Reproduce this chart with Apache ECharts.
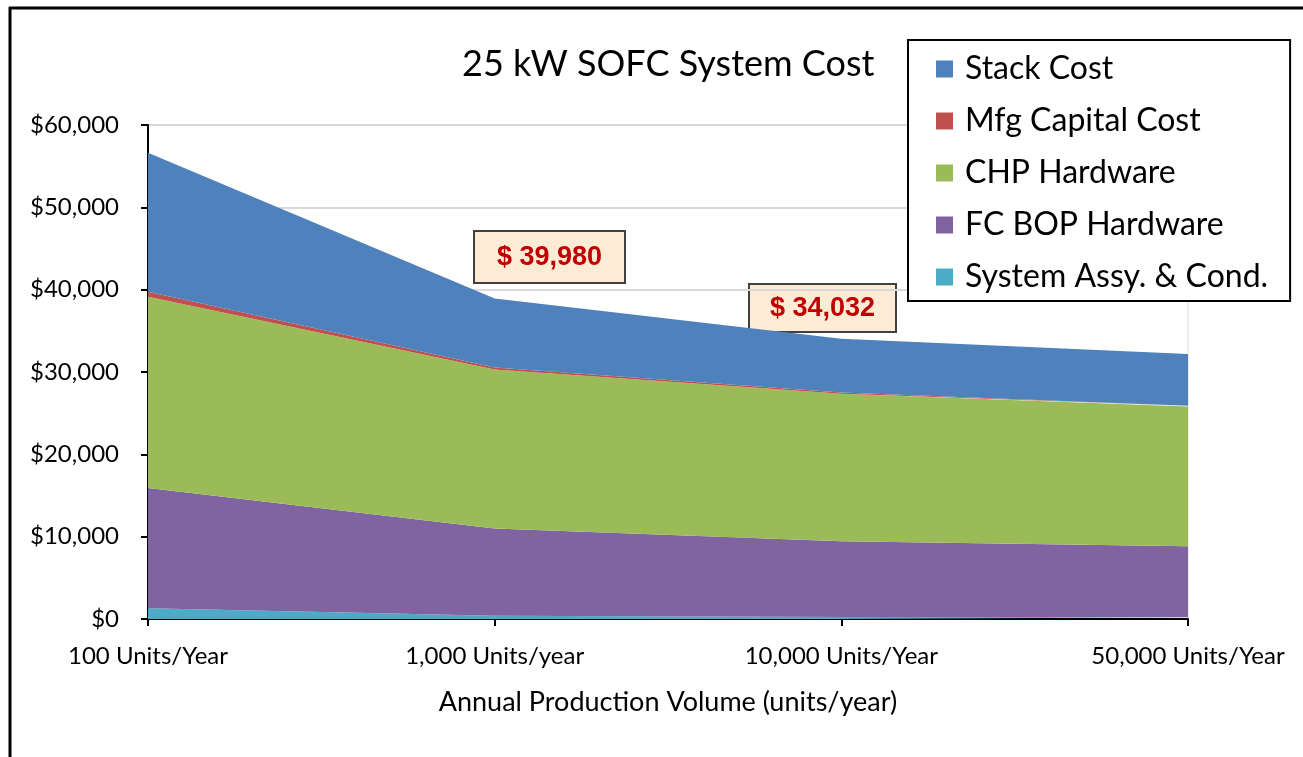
<!DOCTYPE html>
<html>
<head>
<meta charset="utf-8">
<script src="https://cdn.jsdelivr.net/npm/echarts@6/dist/echarts.min.js"></script>
<style>
  html, body { margin: 0; padding: 0; background: #fff; }
  #chart { width: 1303px; height: 757px; }
</style>
</head>
<body>
<div id="chart"></div>
<script>
const categories = ['100 Units/Year', '1,000 Units/year', '10,000 Units/Year', '50,000 Units/Year'];
const sysAssy = [1300, 400, 250, 200];
const fcBop = [14600, 10600, 9200, 8650];
const chpHardware = [23250, 19300, 17900, 16950];
const mfgCapital = [600, 250, 150, 100];
const stackCost = [16880, 8380, 6530, 6300];
const callouts = ['$ 39,980', '$ 34,032'];

const font = 'Lato';
const chart = echarts.init(document.getElementById('chart'));

function area(name, data, color) {
  return {
    name: name,
    type: 'line',
    stack: 'total',
    data: data,
    symbol: 'none',
    lineStyle: { width: 0 },
    areaStyle: { color: color, opacity: 1 },
    itemStyle: { color: color }
  };
}

function callout(text, x, y, w, h) {
  return {
    type: 'group',
    left: x,
    top: y,
    children: [
      {
        type: 'rect',
        shape: { x: 0, y: 0, width: w, height: h },
        style: { fill: '#fdebd6', stroke: '#404040', lineWidth: 2 }
      },
      {
        type: 'text',
        x: w / 2,
        y: h / 2 + 1,
        style: {
          text: text,
          fill: '#c00000',
          font: 'bold 27px "Liberation Sans", Arial, sans-serif',
          align: 'center',
          verticalAlign: 'middle'
        }
      }
    ]
  };
}

chart.setOption({
  animation: false,
  backgroundColor: '#fff',
  title: {
    text: '25 kW SOFC System Cost',
    left: 457,
    top: 41,
    textStyle: { fontFamily: font, fontSize: 36, fontWeight: 'normal', color: '#000' }
  },
  grid: {
    left: 148,
    right: 115,
    top: 125,
    bottom: 138,
    show: true,
    borderColor: '#d9d9d9',
    borderWidth: 1
  },
  legend: {
    orient: 'vertical',
    left: 908,
    top: 40,
    padding: [13, 22, 8, 28],
    backgroundColor: '#fff',
    borderColor: '#000',
    borderWidth: 2,
    borderRadius: 0,
    itemWidth: 17,
    itemHeight: 17,
    itemGap: 20,
    icon: 'rect',
    data: ['Stack Cost', 'Mfg Capital Cost', 'CHP Hardware', 'FC BOP Hardware', 'System Assy. & Cond.'],
    textStyle: { fontFamily: font, fontSize: 32, color: '#000', lineHeight: 32, padding: [0, 0, 0, 7] }
  },
  xAxis: {
    type: 'category',
    boundaryGap: false,
    data: categories,
    name: 'Annual Production Volume (units/year)',
    nameLocation: 'middle',
    nameGap: 70,
    nameTextStyle: { fontFamily: font, fontSize: 27, color: '#000' },
    axisLine: { lineStyle: { color: '#000', width: 2 } },
    axisTick: { show: true, length: 7, lineStyle: { color: '#000', width: 2 } },
    axisLabel: { fontFamily: font, fontSize: 24, color: '#000', margin: 25 },
    splitLine: { show: false }
  },
  yAxis: {
    type: 'value',
    min: 0,
    max: 60000,
    interval: 10000,
    axisLine: { show: true, lineStyle: { color: '#000', width: 2 } },
    axisTick: { show: true, length: 7, lineStyle: { color: '#000', width: 2 } },
    axisLabel: {
      fontFamily: font,
      fontSize: 24,
      color: '#000',
      margin: 29,
      formatter: v => '$' + v.toLocaleString('en-US')
    },
    splitLine: { lineStyle: { color: '#d9d9d9', width: 2 } }
  },
  series: [
    area('System Assy. & Cond.', sysAssy, '#4bacc6'),
    area('FC BOP Hardware', fcBop, '#8064a2'),
    area('CHP Hardware', chpHardware, '#9bbb59'),
    area('Mfg Capital Cost', mfgCapital, '#c0504d'),
    area('Stack Cost', stackCost, '#4f81bd')
  ],
  graphic: [
    { type: 'line', shape: { x1: 10, y1: 7, x2: 10, y2: 757 }, style: { stroke: '#000', lineWidth: 3 } },
    { type: 'line', shape: { x1: 9, y1: 8, x2: 1303, y2: 8 }, style: { stroke: '#000', lineWidth: 3 } },
    callout(callouts[0], 473, 230, 151, 52),
    callout(callouts[1], 748, 283, 147, 48)
  ]
});
</script>
</body>
</html>
